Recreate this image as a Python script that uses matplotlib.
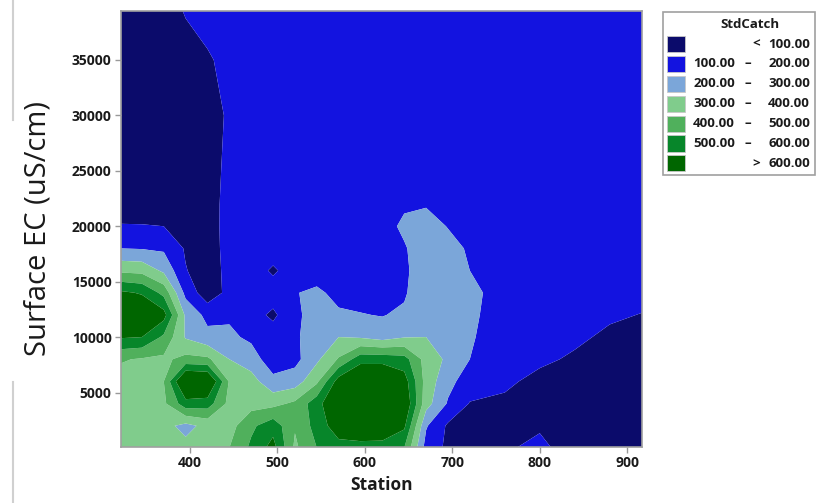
import numpy as np
import matplotlib.pyplot as plt
from matplotlib.patches import Rectangle
from matplotlib.lines import Line2D

# --- data: StdCatch estimated on a Station x Surface EC grid ---
stations = [320, 345, 370, 395, 420, 445, 470, 495, 520, 545, 570,
            595, 620, 645, 670, 695, 720, 760, 800, 840, 880, 920]
ec_levels = [0, 2000, 4000, 6000, 8000, 10000, 12000, 14000, 16000,
             18000, 20000, 22000, 25000, 30000, 35000, 40000]

catch_ec0 = [350, 345, 340, 330, 340, 400, 520, 640, 380, 500, 560, 560, 560, 500, 160, 80, 70, 90, 120, 60, 40, 40]
catch_ec2000 = [340, 340, 330, 270, 330, 360, 480, 560, 410, 540, 660, 690, 680, 620, 210, 85, 70, 60, 90, 50, 40, 40]
catch_ec4000 = [350, 350, 380, 560, 550, 370, 360, 370, 420, 560, 720, 760, 760, 700, 340, 190, 95, 80, 50, 40, 40, 40]
catch_ec6000 = [360, 360, 400, 760, 740, 390, 340, 230, 250, 380, 650, 750, 750, 650, 360, 230, 150, 120, 70, 50, 40, 40]
catch_ec8000 = [410, 390, 380, 430, 420, 300, 250, 140, 170, 280, 410, 560, 560, 540, 360, 280, 200, 150, 120, 85, 60, 50]
catch_ec10000 = [610, 600, 480, 290, 230, 220, 180, 150, 185, 250, 300, 290, 260, 295, 300, 270, 210, 150, 150, 120, 80, 60]
catch_ec12000 = [720, 700, 640, 280, 170, 185, 140, 80, 180, 240, 215, 205, 195, 220, 280, 290, 220, 150, 150, 150, 115, 95]
catch_ec14000 = [620, 590, 470, 170, 40, 130, 150, 150, 195, 220, 170, 160, 160, 185, 290, 290, 230, 150, 150, 150, 150, 130]
catch_ec16000 = [380, 370, 280, 105, 50, 130, 150, 85, 150, 150, 150, 150, 150, 175, 280, 270, 200, 150, 150, 150, 150, 150]
catch_ec18000 = [200, 195, 185, 90, 60, 130, 150, 150, 150, 150, 150, 150, 150, 190, 260, 240, 185, 150, 150, 150, 150, 150]
catch_ec20000 = [105, 105, 100, 80, 70, 125, 150, 150, 150, 150, 150, 150, 160, 220, 250, 195, 160, 150, 150, 150, 150, 150]
catch_ec22000 = [60, 50, 50, 55, 75, 120, 150, 150, 150, 150, 150, 150, 150, 185, 190, 170, 150, 150, 150, 150, 150, 150]
catch_ec25000 = [30, 30, 40, 50, 75, 115, 150, 150, 150, 150, 150, 150, 150, 150, 150, 150, 150, 150, 150, 150, 150, 150]
catch_ec30000 = [30, 30, 40, 50, 70, 110, 140, 150, 150, 150, 150, 150, 150, 150, 150, 150, 150, 150, 150, 150, 150, 150]
catch_ec35000 = [30, 40, 50, 70, 90, 125, 150, 150, 150, 150, 150, 150, 150, 150, 150, 150, 150, 150, 150, 150, 150, 150]
catch_ec40000 = [40, 50, 70, 110, 140, 150, 150, 150, 150, 150, 150, 150, 150, 150, 150, 150, 150, 150, 150, 150, 150, 150]

levels = [0, 100, 200, 300, 400, 500, 600, 1000]
level_labels = ['< 100.00', '100.00 – 200.00', '200.00 – 300.00', '300.00 – 400.00',
                '400.00 – 500.00', '500.00 – 600.00', '> 600.00']
colors = ['#0b0b6b', '#1313e0', '#7ba6d9', '#80cc8c', '#50b05c', '#07862a', '#006600']

grid = np.array([catch_ec0, catch_ec2000, catch_ec4000, catch_ec6000, catch_ec8000,
                 catch_ec10000, catch_ec12000, catch_ec14000, catch_ec16000,
                 catch_ec18000, catch_ec20000, catch_ec22000, catch_ec25000,
                 catch_ec30000, catch_ec35000, catch_ec40000], dtype=float)

plt.rcParams['font.family'] = ['Open Sans', 'DejaVu Sans']

fig = plt.figure(figsize=(8.2, 5.03), dpi=100)
ax = fig.add_axes([0.148, 0.112, 0.635, 0.866])

ax.contourf(stations, ec_levels, grid, levels=levels, colors=colors, antialiased=True)

ax.set_xlim(321.5, 917)
ax.set_ylim(117, 39414)
ax.set_xticks([400, 500, 600, 700, 800, 900])
ax.set_yticks([5000, 10000, 15000, 20000, 25000, 30000, 35000])
ax.tick_params(length=4, width=1, color='#999999', labelsize=10, labelcolor='#1a1a1a', pad=3)
for lab in ax.get_xticklabels() + ax.get_yticklabels():
    lab.set_fontweight('bold')
for sp in ax.spines.values():
    sp.set_color('#a0a0a0')
    sp.set_linewidth(1.2)

ax.set_xlabel('Station', fontsize=12.5, fontweight='bold', color='#1a1a1a', labelpad=4)
ax.set_ylabel('Surface EC (uS/cm)', fontsize=21, color='#1a1a1a', labelpad=14)

# legend box (drawn in figure pixels)
W, H = 820, 503
def fx(px):
    return px / W
def fy(py):
    return 1 - py / H

fig.patches.append(Rectangle((fx(663), fy(175)), fx(815) - fx(663), fy(12) - fy(175),
                             transform=fig.transFigure, fill=False, edgecolor='#a0a0a0', lw=1.2))
fig.text(fx(750), fy(25), 'StdCatch', fontsize=9.5, fontweight='bold', ha='center', va='center', color='#1a1a1a')
for i, (c, lab) in enumerate(zip(colors, level_labels)):
    yc = 44 + i * 19.9
    fig.patches.append(Rectangle((fx(667), fy(yc + 8)), fx(685) - fx(667), fy(yc - 8) - fy(yc + 8),
                                 transform=fig.transFigure, facecolor=c, edgecolor='#c8c8c8', lw=0.6))
    kw = dict(fontsize=9.5, fontweight='bold', va='center', color='#1a1a1a')
    if lab.startswith('<') or lab.startswith('>'):
        fig.text(fx(756), fy(yc), lab[0], ha='center', **kw)
        fig.text(fx(810), fy(yc), lab[2:], ha='right', **kw)
    else:
        lo, hi = lab.split(' – ')
        fig.text(fx(735), fy(yc), lo, ha='right', **kw)
        fig.text(fx(748), fy(yc), '–', ha='center', **kw)
        fig.text(fx(810), fy(yc), hi, ha='right', **kw)

# window edge lines from the screenshot
fig.add_artist(Line2D([fx(13), fx(13)], [fy(0), fy(120)], color='#d0d0d0', lw=1.5))
fig.add_artist(Line2D([fx(13), fx(13)], [fy(382), fy(503)], color='#d0d0d0', lw=1.5))

fig.savefig('out.png', dpi=100)
